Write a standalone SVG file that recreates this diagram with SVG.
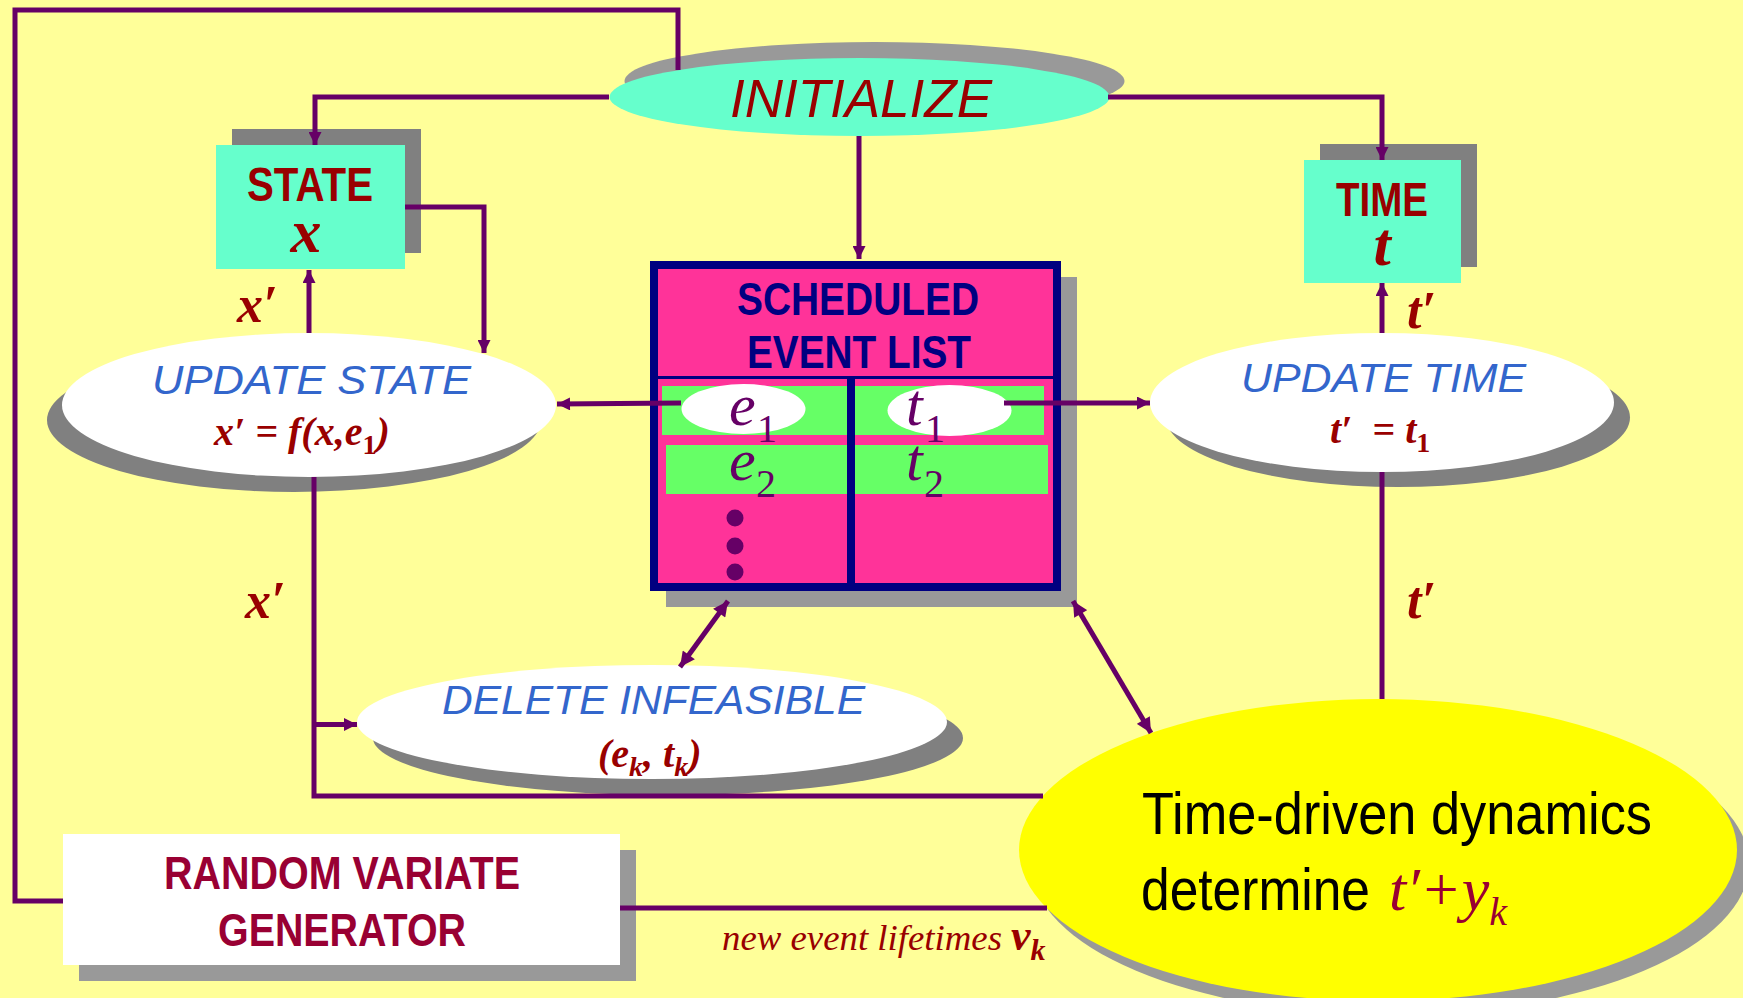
<svg xmlns="http://www.w3.org/2000/svg" width="1743" height="998" viewBox="0 0 1743 998">
  <style>
    .wire { fill: none; stroke: #660066; stroke-width: 5; }
    .sh1 { fill: #999999; }
    .sh2 { fill: #808080; }
    .sans { font-family: "Liberation Sans", Arial, sans-serif; }
    .serif { font-family: "Liberation Serif", "Times New Roman", serif; }
    .head { font-weight: bold; font-size: 48px; fill: #990000; }
    .proc { font-style: italic; font-size: 41px; fill: #3366CC; }
    .math { font-style: italic; font-weight: bold; fill: #990000; }
    .ev { font-style: italic; font-size: 60px; fill: #660066; }
    .evsub { font-size: 40px; fill: #660066; }
  </style>
  <defs>
    <marker id="arr" viewBox="0 0 10 10" refX="10" refY="5" markerWidth="14" markerHeight="13" markerUnits="userSpaceOnUse" orient="auto">
      <path d="M0,0 L10,5 L0,10 z" fill="#660066"/>
    </marker>
    <marker id="arr2" viewBox="0 0 10 10" refX="10" refY="5" markerWidth="17" markerHeight="15" markerUnits="userSpaceOnUse" orient="auto-start-reverse">
      <path d="M0,0 L10,5 L0,10 z" fill="#660066"/>
    </marker>
  </defs>

  <rect x="0" y="0" width="1743" height="998" fill="#FFFF99"/>

  <!-- initialize -->
  <g id="initialize">
    <ellipse class="sh1" cx="874.5" cy="81" rx="250" ry="39"/>
    <ellipse cx="859.5" cy="97" rx="250" ry="39" fill="#66FFCC"/>
    <text class="sans" x="730" y="117" font-size="53" font-style="italic" fill="#990000" textLength="262" lengthAdjust="spacingAndGlyphs">INITIALIZE</text>
  </g>

  <!-- state -->
  <g id="state">
    <rect class="sh2" x="232" y="129" width="189" height="124"/>
    <rect x="216" y="145" width="189" height="124" fill="#66FFCC"/>
    <text class="sans head" x="247" y="201" textLength="126" lengthAdjust="spacingAndGlyphs">STATE</text>
    <text class="serif math" x="306" y="252" font-size="62" text-anchor="middle">x</text>
  </g>

  <!-- time -->
  <g id="time">
    <rect class="sh2" x="1320" y="144" width="157" height="123"/>
    <rect x="1304" y="160" width="157" height="123" fill="#66FFCC"/>
    <text class="sans head" x="1336" y="216" textLength="92" lengthAdjust="spacingAndGlyphs">TIME</text>
    <text class="serif math" x="1382" y="265" font-size="62" text-anchor="middle">t</text>
  </g>

  <!-- scheduled event list -->
  <g id="event-list">
    <rect class="sh1" x="666" y="277" width="411" height="330"/>
    <rect x="650" y="261" width="411" height="330" fill="#000080"/>
    <rect x="658" y="269" width="395" height="314" fill="#FF3399"/>
    <rect x="658" y="376" width="395" height="3" fill="#000080"/>
    <rect x="847" y="377" width="8" height="206" fill="#000080"/>
    <rect x="662" y="386" width="185" height="49" fill="#66FF66"/>
    <rect x="855" y="386" width="189" height="49" fill="#66FF66"/>
    <rect x="666" y="445" width="181" height="49" fill="#66FF66"/>
    <rect x="855" y="445" width="193" height="49" fill="#66FF66"/>
    <ellipse cx="743.5" cy="409" rx="62" ry="25" fill="#FFFFFF"/>
    <ellipse cx="949.5" cy="410.5" rx="62" ry="25.5" fill="#FFFFFF"/>
    <text class="sans" x="737" y="315" font-size="46" font-weight="bold" fill="#000080" textLength="242" lengthAdjust="spacingAndGlyphs">SCHEDULED</text>
    <text class="sans" x="747" y="368" font-size="46" font-weight="bold" fill="#000080" textLength="224" lengthAdjust="spacingAndGlyphs">EVENT LIST</text>
    <text class="serif ev" x="729" y="425">e</text>
    <text class="serif evsub" x="757" y="442">1</text>
    <text class="serif ev" x="729" y="480">e</text>
    <text class="serif evsub" x="756" y="497">2</text>
    <text class="serif ev" x="906" y="425">t</text>
    <text class="serif evsub" x="925" y="442">1</text>
    <text class="serif ev" x="906" y="480">t</text>
    <text class="serif evsub" x="924" y="497">2</text>
    <circle cx="735" cy="518" r="8.5" fill="#660066"/>
    <circle cx="735" cy="546" r="8.5" fill="#660066"/>
    <circle cx="735" cy="572" r="8.5" fill="#660066"/>
  </g>

  <!-- update state -->
  <g id="update-state">
    <ellipse class="sh2" cx="294" cy="420" rx="247" ry="72"/>
    <ellipse cx="309" cy="405" rx="247" ry="72" fill="#FFFFFF"/>
    <text class="sans proc" x="152" y="394" textLength="319" lengthAdjust="spacingAndGlyphs">UPDATE STATE</text>
    <text class="serif math" x="214" y="445" font-size="40">x′ = f(x,e<tspan font-size="28" dy="9" font-style="normal">1</tspan><tspan dy="-9">)</tspan></text>
  </g>

  <!-- update time -->
  <g id="update-time">
    <ellipse class="sh2" cx="1398" cy="417.5" rx="232" ry="69.5"/>
    <ellipse cx="1382" cy="402.5" rx="232" ry="69.5" fill="#FFFFFF"/>
    <text class="sans proc" x="1241" y="392" textLength="285" lengthAdjust="spacingAndGlyphs">UPDATE TIME</text>
    <text class="serif math" x="1330" y="443" font-size="40" xml:space="preserve">t′  = t<tspan font-size="28" dy="9" font-style="normal">1</tspan></text>
  </g>

  <!-- delete infeasible -->
  <g id="delete-infeasible">
    <ellipse class="sh2" cx="668" cy="738" rx="295" ry="57"/>
    <ellipse cx="652" cy="722" rx="295" ry="57" fill="#FFFFFF"/>
    <text class="sans proc" x="442" y="714" font-size="40" textLength="423" lengthAdjust="spacingAndGlyphs">DELETE INFEASIBLE</text>
    <text class="serif math" x="598" y="767" font-size="40">(e<tspan font-size="28" dy="9">k</tspan><tspan dy="-9">, t</tspan><tspan font-size="28" dy="9">k</tspan><tspan dy="-9">)</tspan></text>
  </g>

  <!-- random variate generator -->
  <g id="random-variate">
    <rect class="sh1" x="79" y="850" width="557" height="131"/>
    <rect x="63" y="834" width="557" height="131" fill="#FFFFFF"/>
    <text class="sans" x="164" y="889" font-size="46" font-weight="bold" fill="#990033" textLength="356" lengthAdjust="spacingAndGlyphs">RANDOM VARIATE</text>
    <text class="sans" x="218" y="946" font-size="46" font-weight="bold" fill="#990033" textLength="248" lengthAdjust="spacingAndGlyphs">GENERATOR</text>
  </g>

  <!-- time-driven dynamics -->
  <g id="time-driven">
    <ellipse class="sh1" cx="1390" cy="864" rx="359" ry="151"/>
    <ellipse cx="1378" cy="850" rx="359" ry="151" fill="#FFFF00"/>
    <text class="sans" x="1142" y="834" font-size="60" fill="#000000" textLength="510" lengthAdjust="spacingAndGlyphs">Time-driven dynamics</text>
    <text class="sans" x="1141" y="910" font-size="60" fill="#000000" textLength="229" lengthAdjust="spacingAndGlyphs">determine</text>
    <text class="serif" x="1389" y="910" font-size="62" font-style="italic" fill="#990033">t′+y<tspan font-size="40" dy="15">k</tspan></text>
  </g>

  <!-- connectors, drawn over the node shapes so every arrowhead shows -->
  <g id="connectors">
    <path class="wire" d="M678 70 V10 H15 V901 H63"/>
    <path class="wire" d="M609 97 H315 V145" marker-end="url(#arr)"/>
    <path class="wire" d="M1108 97 H1382 V160" marker-end="url(#arr)"/>
    <path class="wire" d="M859 136 V259" marker-end="url(#arr)"/>
    <path class="wire" d="M405 207 H484 V353" marker-end="url(#arr)"/>
    <path class="wire" d="M309 333 V270" marker-end="url(#arr)"/>
    <path class="wire" d="M1382 333 V283" marker-end="url(#arr)"/>
    <path class="wire" d="M681 403 L557 404" marker-end="url(#arr)"/>
    <path class="wire" d="M1004 403 H1150" marker-end="url(#arr)"/>
    <path class="wire" d="M314 477 V796 H1043"/>
    <path class="wire" d="M314 724.5 H357" marker-end="url(#arr)"/>
    <path class="wire" d="M1382 472 V699"/>
    <path class="wire" d="M620 908 H1047"/>
    <path class="wire" d="M728 601 L680 667" marker-start="url(#arr2)" marker-end="url(#arr2)"/>
    <path class="wire" d="M1073 601 L1151 733" marker-start="url(#arr2)" marker-end="url(#arr2)"/>
  </g>

  <!-- edge labels -->
  <g id="labels">
    <text class="serif math" x="237" y="322" font-size="52">x′</text>
    <text class="serif math" x="245" y="618" font-size="52">x′</text>
    <text class="serif math" x="1407" y="328" font-size="52">t′</text>
    <text class="serif math" x="1407" y="618" font-size="52">t′</text>
    <text class="serif" x="722" y="950" font-size="36" font-style="italic" fill="#990000" textLength="280" lengthAdjust="spacingAndGlyphs">new event lifetimes</text>
    <text class="serif math" x="1011" y="950" font-size="44">v<tspan font-size="30" dy="10">k</tspan></text>
  </g>
</svg>
